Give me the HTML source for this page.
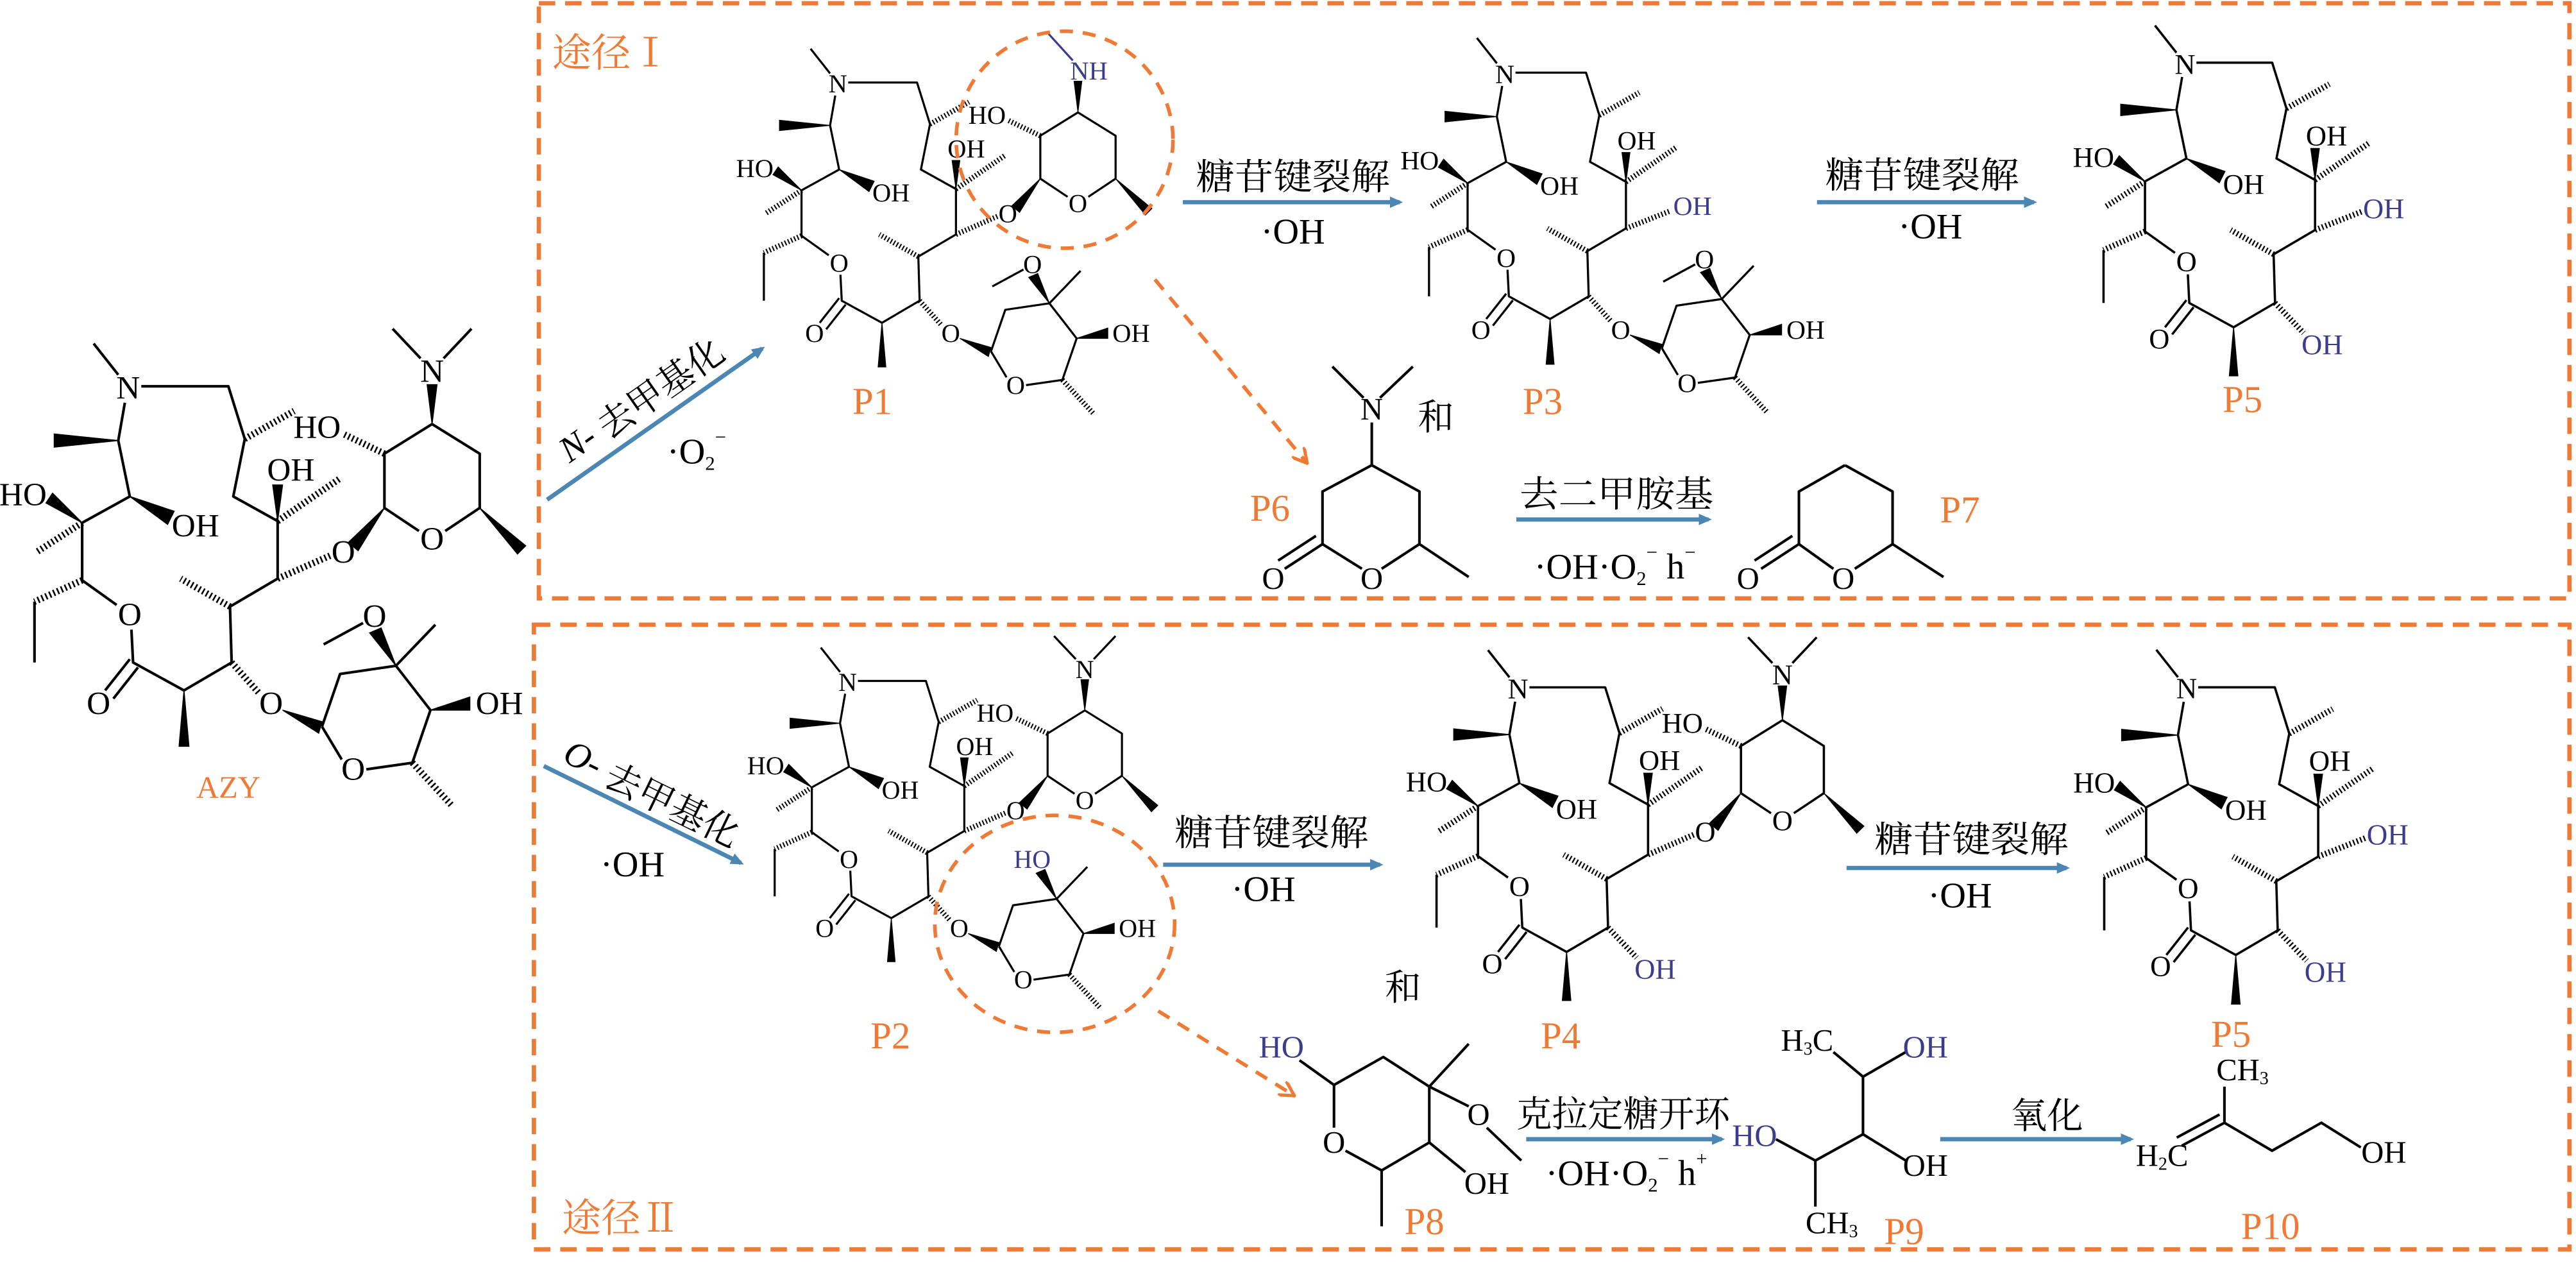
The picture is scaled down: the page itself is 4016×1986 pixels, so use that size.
<!DOCTYPE html>
<html><head><meta charset="utf-8">
<style>
html,body{margin:0;padding:0;background:#fff;}
svg{display:block;}
text{font-family:"Liberation Serif","Noto Serif CJK SC",serif;text-anchor:middle;dominant-baseline:central;fill:#000;}
.m text{font-size:20px;}
.l{stroke:#000;stroke-width:1.6;fill:none;stroke-linejoin:round;}
.b{fill:#000;stroke:#000;stroke-width:0.6;}
.h{stroke:#000;stroke-width:4;stroke-dasharray:1 1.6;fill:none;}
.p{fill:#3c3c8c !important;}
.lab{font-size:23px;fill:#EE7A35;}
.cn{font-size:22px;font-family:"Noto Serif CJK SC","Liberation Serif",serif;}
.r{font-size:22px;}
.s{font-size:19px;}
.box{fill:none;stroke:#EE7A35;stroke-width:2.6;stroke-dasharray:10 6;}
.arr{stroke:#4C86B3;stroke-width:2.6;fill:none;marker-end:url(#ab);}
.darr{stroke:#EE7A35;stroke-width:2.2;stroke-dasharray:8 6;fill:none;marker-end:url(#ao);}
.c{font-family:"Liberation Serif",serif;}
</style></head><body>
<svg width="4016" height="1986" viewBox="0 0 1568 775" preserveAspectRatio="none" xmlns="http://www.w3.org/2000/svg">
<defs>
<marker id="ab" markerWidth="8" markerHeight="8" refX="6" refY="4" orient="auto" markerUnits="userSpaceOnUse"><path d="M0,0.5 L8,4 L0,7.5Z" fill="#4C86B3"/></marker>
<marker id="ao" markerWidth="10" markerHeight="10" refX="8" refY="5" orient="auto" markerUnits="userSpaceOnUse"><path d="M0,0 L9,5 L0,10" fill="none" stroke="#EE7A35" stroke-width="2"/></marker>
</defs>
<rect width="1568" height="775" fill="#fff"/>

<rect class="box" x="328" y="2" width="1236" height="362"/>
<rect class="box" x="325" y="380" width="1239" height="380"/>
<text x="372" y="30" class="cn" style="font-size:24px;fill:#EE7A35">途径Ⅰ</text>
<text x="378" y="739" class="cn" style="font-size:24px;fill:#EE7A35">途径Ⅱ</text>

<!-- AZY -->
<g class="m" transform="translate(78,236) scale(1)">
<text x="0" y="0">N</text><text x="99" y="50">OH</text><text x="41" y="84">OH</text><text x="-64" y="65">HO</text><text x="1" y="138">O</text><text x="-18" y="192">O</text>
<path class="l" d="M-6,-8 L-21,-27 M8,-1 L61,-1 L71,31 L64,66 L91,81 L91,116 L62,133 L63,167 L34,184 L3,167 L2,147 M-7,132 L-28,117 L-28,82 L1,66 L-6,32 L-2,9 M1,165 L-14,184 M6,170 L-9,189 M-57,130 L-57,167"/>
<path class="b" d="M-6,32 L-45,28 L-45,36Z M1,66 L24,83 L28,75Z M-28,82 L-50,70 L-46,64Z M91,81 L88,59 L94,59Z M34,184 L31,218 L37,218Z"/>
<path class="h" d="M71,31 L101,14 M91,81 L129,55 M-28,82 L-56,100 M-28,117 L-57,130 M62,133 L32,116"/>
<text x="185" y="-10">N</text>
<path class="l" d="M178,-18 L161,-36 M192,-18 L209,-36 M185,22 L214,40 L214,73 L193,87 M177,87 L156,73 L156,40 L185,22"/>
<text x="185" y="92">O</text>
<path class="b" d="M185,22 L182,-2 L188,-2Z M156,73 L134,94 L140,99Z M214,73 L237,101 L242,96Z"/>
<path class="h" d="M156,40 L131,28 M91,116 L123,102"/>
<text x="115" y="24">HO</text><text x="131" y="100">O</text>
<text x="87" y="192">O</text>
<path class="h" d="M63,167 L80,186 M173,228 L197,254"/>
<path class="b" d="M94,196 L118,203 L116,210Z M163,169 L147,149 L154,146Z M184,196 L208,188 L208,196Z"/>
<path class="l" d="M118,206 L129,174 L163,169 L184,196 L173,228 L145,232 M130,226 L118,206 M163,169 L187,144 M143,143 L119,156"/>
<text x="150" y="139">O</text><text x="226" y="192">OH</text><text x="137" y="232">O</text>
</g>
<text x="139" y="479" style="font-size:19px;fill:#EE7A35">AZY</text>

<!-- P1 -->
<g class="m" transform="translate(510,51) scale(0.79)">
<text x="0" y="0">N</text><text x="99" y="50">OH</text><text x="41" y="84">OH</text><text x="-64" y="65">HO</text><text x="1" y="138">O</text><text x="-18" y="192">O</text>
<path class="l" d="M-6,-8 L-21,-27 M8,-1 L61,-1 L71,31 L64,66 L91,81 L91,116 L62,133 L63,167 L34,184 L3,167 L2,147 M-7,132 L-28,117 L-28,82 L1,66 L-6,32 L-2,9 M1,165 L-14,184 M6,170 L-9,189 M-57,130 L-57,167"/>
<path class="b" d="M-6,32 L-45,28 L-45,36Z M1,66 L24,83 L28,75Z M-28,82 L-50,70 L-46,64Z M91,81 L88,59 L94,59Z M34,184 L31,218 L37,218Z"/>
<path class="h" d="M71,31 L101,14 M91,81 L129,55 M-28,82 L-56,100 M-28,117 L-57,130 M62,133 L32,116"/>
<text x="179" y="-10" class="p" style="text-anchor:start">NH</text>
<path class="l" d="M185,22 L214,40 L214,73 L193,87 M177,87 L156,73 L156,40 L185,22" />
<path d="M181,-18 L161,-40" stroke="#3c3c8c" stroke-width="1.6"/>
<text x="185" y="92">O</text>
<path class="b" d="M185,22 L182,-2 L188,-2Z M156,73 L134,94 L140,99Z M214,73 L237,101 L242,96Z"/>
<path class="h" d="M156,40 L131,28 M91,116 L123,102"/>
<text x="115" y="24">HO</text><text x="131" y="100">O</text>
<text x="87" y="192">O</text>
<path class="h" d="M63,167 L80,186 M173,228 L197,254"/>
<path class="b" d="M94,196 L118,203 L116,210Z M163,169 L147,149 L154,146Z M184,196 L208,188 L208,196Z"/>
<path class="l" d="M118,206 L129,174 L163,169 L184,196 L173,228 L145,232 M130,226 L118,206 M163,169 L187,144 M143,143 L119,156"/>
<text x="150" y="139">O</text><text x="226" y="192">OH</text><text x="137" y="232">O</text>
</g>
<circle cx="648" cy="85" r="66" fill="none" stroke="#EE7A35" stroke-width="2.2" stroke-dasharray="8 6"/>
<text x="531" y="244" class="lab">P1</text>

<!-- P3 -->
<g class="m" transform="translate(916,45) scale(0.81)">
<text x="0" y="0">N</text><text x="99" y="50">OH</text><text x="41" y="84">OH</text><text x="-64" y="65">HO</text><text x="1" y="138">O</text><text x="-18" y="192">O</text>
<path class="l" d="M-6,-8 L-21,-27 M8,-1 L61,-1 L71,31 L64,66 L91,81 L91,116 L62,133 L63,167 L34,184 L3,167 L2,147 M-7,132 L-28,117 L-28,82 L1,66 L-6,32 L-2,9 M1,165 L-14,184 M6,170 L-9,189 M-57,130 L-57,167"/>
<path class="b" d="M-6,32 L-45,28 L-45,36Z M1,66 L24,83 L28,75Z M-28,82 L-50,70 L-46,64Z M91,81 L88,59 L94,59Z M34,184 L31,218 L37,218Z"/>
<path class="h" d="M71,31 L101,14 M91,81 L129,55 M-28,82 L-56,100 M-28,117 L-57,130 M62,133 L32,116 M91,116 L124,103"/>
<text x="141" y="99" class="p">OH</text>
<text x="87" y="192">O</text>
<path class="h" d="M63,167 L80,186 M173,228 L197,254"/>
<path class="b" d="M94,196 L118,203 L116,210Z M163,169 L147,149 L154,146Z M184,196 L208,188 L208,196Z"/>
<path class="l" d="M118,206 L129,174 L163,169 L184,196 L173,228 L145,232 M130,226 L118,206 M163,169 L187,144 M143,143 L119,156"/>
<text x="150" y="139">O</text><text x="226" y="192">OH</text><text x="137" y="232">O</text>
</g>
<text x="939" y="244" class="lab">P3</text>

<!-- P5 top -->
<g class="m" transform="translate(1330,39) scale(0.87)">
<text x="0" y="0">N</text><text x="99" y="50">OH</text><text x="41" y="84">OH</text><text x="-64" y="65">HO</text><text x="1" y="138">O</text><text x="-18" y="192">O</text>
<path class="l" d="M-6,-8 L-21,-27 M8,-1 L61,-1 L71,31 L64,66 L91,81 L91,116 L62,133 L63,167 L34,184 L3,167 L2,147 M-7,132 L-28,117 L-28,82 L1,66 L-6,32 L-2,9 M1,165 L-14,184 M6,170 L-9,189 M-57,130 L-57,167"/>
<path class="b" d="M-6,32 L-45,28 L-45,36Z M1,66 L24,83 L28,75Z M-28,82 L-50,70 L-46,64Z M91,81 L88,59 L94,59Z M34,184 L31,218 L37,218Z"/>
<path class="h" d="M71,31 L101,14 M91,81 L129,55 M-28,82 L-56,100 M-28,117 L-57,130 M62,133 L32,116 M91,116 L124,103 M63,167 L83,188"/>
<text x="139" y="101" class="p">OH</text>
<text x="96" y="196" class="p">OH</text>
</g>
<text x="1365" y="243" class="lab">P5</text>

<!-- P2 -->
<g class="m" transform="translate(516,415) scale(0.78)">
<text x="0" y="0">N</text><text x="99" y="50">OH</text><text x="41" y="84">OH</text><text x="-64" y="65">HO</text><text x="1" y="138">O</text><text x="-18" y="192">O</text>
<path class="l" d="M-6,-8 L-21,-27 M8,-1 L61,-1 L71,31 L64,66 L91,81 L91,116 L62,133 L63,167 L34,184 L3,167 L2,147 M-7,132 L-28,117 L-28,82 L1,66 L-6,32 L-2,9 M1,165 L-14,184 M6,170 L-9,189 M-57,130 L-57,167"/>
<path class="b" d="M-6,32 L-45,28 L-45,36Z M1,66 L24,83 L28,75Z M-28,82 L-50,70 L-46,64Z M91,81 L88,59 L94,59Z M34,184 L31,218 L37,218Z"/>
<path class="h" d="M71,31 L101,14 M91,81 L129,55 M-28,82 L-56,100 M-28,117 L-57,130 M62,133 L32,116"/>
<text x="185" y="-10">N</text>
<path class="l" d="M178,-18 L161,-36 M192,-18 L209,-36 M185,22 L214,40 L214,73 L193,87 M177,87 L156,73 L156,40 L185,22"/>
<text x="185" y="92">O</text>
<path class="b" d="M185,22 L182,-2 L188,-2Z M156,73 L134,94 L140,99Z M214,73 L237,101 L242,96Z"/>
<path class="h" d="M156,40 L131,28 M91,116 L123,102"/>
<text x="115" y="24">HO</text><text x="131" y="100">O</text>
<text x="87" y="192">O</text>
<path class="h" d="M63,167 L80,186 M173,228 L197,254"/>
<path class="b" d="M94,196 L118,203 L116,210Z M163,169 L147,149 L154,146Z M184,196 L208,188 L208,196Z"/>
<path class="l" d="M118,206 L129,174 L163,169 L184,196 L173,228 L145,232 M130,226 L118,206 M163,169 L187,144"/>
<text x="144" y="138" class="p">HO</text><text x="226" y="192">OH</text><text x="137" y="232">O</text>
</g>
<ellipse cx="642" cy="562" rx="73" ry="66" fill="none" stroke="#EE7A35" stroke-width="2.2" stroke-dasharray="8 6"/>
<text x="542" y="630" class="lab">P2</text>

<!-- P4 -->
<g class="m" transform="translate(924,419) scale(0.87)">
<text x="0" y="0">N</text><text x="99" y="50">OH</text><text x="41" y="84">OH</text><text x="-64" y="65">HO</text><text x="1" y="138">O</text><text x="-18" y="192">O</text>
<path class="l" d="M-6,-8 L-21,-27 M8,-1 L61,-1 L71,31 L64,66 L91,81 L91,116 L62,133 L63,167 L34,184 L3,167 L2,147 M-7,132 L-28,117 L-28,82 L1,66 L-6,32 L-2,9 M1,165 L-14,184 M6,170 L-9,189 M-57,130 L-57,167"/>
<path class="b" d="M-6,32 L-45,28 L-45,36Z M1,66 L24,83 L28,75Z M-28,82 L-50,70 L-46,64Z M91,81 L88,59 L94,59Z M34,184 L31,218 L37,218Z"/>
<path class="h" d="M71,31 L101,14 M91,81 L129,55 M-28,82 L-56,100 M-28,117 L-57,130 M62,133 L32,116 M63,167 L83,188"/>
<text x="185" y="-10">N</text>
<path class="l" d="M178,-18 L161,-36 M192,-18 L209,-36 M185,22 L214,40 L214,73 L193,87 M177,87 L156,73 L156,40 L185,22"/>
<text x="185" y="92">O</text>
<path class="b" d="M185,22 L182,-2 L188,-2Z M156,73 L134,94 L140,99Z M214,73 L237,101 L242,96Z"/>
<path class="h" d="M156,40 L131,28 M91,116 L123,102"/>
<text x="115" y="24">HO</text><text x="131" y="100">O</text>
<text x="96" y="196" class="p">OH</text>
</g>
<text x="950" y="630" class="lab">P4</text>

<!-- P5 bottom -->
<g class="m" transform="translate(1331,419) scale(0.88)">
<text x="0" y="0">N</text><text x="99" y="50">OH</text><text x="41" y="84">OH</text><text x="-64" y="65">HO</text><text x="1" y="138">O</text><text x="-18" y="192">O</text>
<path class="l" d="M-6,-8 L-21,-27 M8,-1 L61,-1 L71,31 L64,66 L91,81 L91,116 L62,133 L63,167 L34,184 L3,167 L2,147 M-7,132 L-28,117 L-28,82 L1,66 L-6,32 L-2,9 M1,165 L-14,184 M6,170 L-9,189 M-57,130 L-57,167"/>
<path class="b" d="M-6,32 L-45,28 L-45,36Z M1,66 L24,83 L28,75Z M-28,82 L-50,70 L-46,64Z M91,81 L88,59 L94,59Z M34,184 L31,218 L37,218Z"/>
<path class="h" d="M71,31 L101,14 M91,81 L129,55 M-28,82 L-56,100 M-28,117 L-57,130 M62,133 L32,116 M91,116 L124,103 M63,167 L83,188"/>
<text x="139" y="101" class="p">OH</text>
<text x="96" y="196" class="p">OH</text>
</g>
<text x="1358" y="629" class="lab">P5</text>

<!-- P6 -->
<text x="835" y="249" class="s">N</text>
<path class="l" d="M830,242 L811,223 M840,242 L860,223 M835,257 L835,283 L864,299 L864,331 L841,346 M829,346 L805,331 L805,299 L835,283 M864,331 L894,351 M805,331 L782,346 M801,326 L778,341"/>
<text x="835" y="352" class="s">O</text>
<text x="775" y="352" class="s">O</text>
<text x="773" y="309" class="lab">P6</text>
<text x="874" y="252" class="cn">和</text>

<!-- P7 -->
<path class="l" d="M1123,283 L1152,299 L1152,331 L1129,346 M1116,346 L1095,331 L1095,299 L1123,283 M1152,331 L1183,351 M1095,331 L1072,346 M1091,326 L1068,341"/>
<text x="1122" y="352" class="s">O</text>
<text x="1064" y="352" class="s">O</text>
<text x="1193" y="310" class="lab">P7</text>

<!-- P8 -->
<text x="780" y="637" class="s p">HO</text>
<path class="l" d="M791,645 L812,660 L842,643 L870,661 L870,695 L841,712 L819,700 M812,660 L812,686 M870,661 L894,635 M870,661 L894,673 M905,686 L926,706 M870,695 L892,713 M841,712 L841,746"/>
<text x="812" y="695" class="s">O</text>
<text x="900" y="678" class="s">O</text>
<text x="905" y="720" class="s">OH</text>
<text x="867" y="743" class="lab">P8</text>
<text x="854" y="599" class="cn">和</text>

<!-- P9 -->
<text x="1100" y="633" class="s">H<tspan font-size="11" dy="5">3</tspan><tspan dy="-5">C</tspan></text>
<path class="l" d="M1116,640 L1134,655 L1160,640 M1134,655 L1134,690 L1160,706 M1134,690 L1105,706 L1081,693 M1105,706 L1105,734"/>
<text x="1172" y="637" class="s p">OH</text>
<text x="1172" y="709" class="s">OH</text>
<text x="1068" y="691" class="s p">HO</text>
<text x="1115" y="744" class="s">CH<tspan font-size="11" dy="5">3</tspan></text>
<text x="1159" y="749" class="lab">P9</text>

<!-- P10 -->
<text x="1365" y="651" class="s">CH<tspan font-size="11" dy="5">3</tspan></text>
<path class="l" d="M1354,661 L1354,683 L1383,700 L1413,683 L1437,698 M1354,683 L1328,697 M1351,678 L1325,692"/>
<text x="1316" y="703" class="s">H<tspan font-size="11" dy="5">2</tspan><tspan dy="-5">C</tspan></text>
<text x="1451" y="701" class="s">OH</text>
<text x="1382" y="746" class="lab">P10</text>

<!-- arrows -->
<line class="arr" x1="333" y1="304" x2="464" y2="212"/>
<text transform="translate(390,243) rotate(-35)" class="cn"><tspan font-style="italic" class="c">N</tspan><tspan class="c">- </tspan>去甲基化</text>
<text x="424" y="275" class="r">·O<tspan font-size="12" dy="7">2</tspan><tspan font-size="12" dy="-16">−</tspan></text>

<line class="arr" x1="331" y1="466" x2="451" y2="525"/>
<text transform="translate(397,482) rotate(26)" class="cn"><tspan font-style="italic" class="c">O</tspan><tspan class="c">- </tspan>去甲基化</text>
<text x="385" y="526" class="r">·OH</text>

<line class="arr" x1="720" y1="123" x2="852" y2="123"/>
<text x="787" y="106" class="cn" textLength="118" lengthAdjust="spacingAndGlyphs">糖苷键裂解</text>
<text x="787" y="141" class="r">·OH</text>

<line class="arr" x1="1106" y1="123" x2="1238" y2="123"/>
<text x="1170" y="105" class="cn" textLength="118" lengthAdjust="spacingAndGlyphs">糖苷键裂解</text>
<text x="1175" y="138" class="r">·OH</text>

<line class="arr" x1="923" y1="316" x2="1040" y2="316"/>
<text x="984" y="299" class="cn" textLength="118" lengthAdjust="spacingAndGlyphs">去二甲胺基</text>
<text x="983" y="345" class="r">·OH·O<tspan font-size="12" dy="7">2</tspan><tspan font-size="12" dy="-16">−</tspan><tspan dy="9"> h</tspan><tspan font-size="12" dy="-9">−</tspan></text>

<line class="arr" x1="708" y1="526" x2="840" y2="526"/>
<text x="774" y="505" class="cn" textLength="118" lengthAdjust="spacingAndGlyphs">糖苷键裂解</text>
<text x="769" y="541" class="r">·OH</text>

<line class="arr" x1="1124" y1="528" x2="1258" y2="528"/>
<text x="1200" y="509" class="cn" textLength="118" lengthAdjust="spacingAndGlyphs">糖苷键裂解</text>
<text x="1193" y="545" class="r">·OH</text>

<line class="arr" x1="929" y1="693" x2="1048" y2="693"/>
<text x="988" y="676" class="cn" textLength="130" lengthAdjust="spacingAndGlyphs">克拉定糖开环</text>
<text x="990" y="714" class="r">·OH·O<tspan font-size="12" dy="7">2</tspan><tspan font-size="12" dy="-16">−</tspan><tspan dy="9"> h</tspan><tspan font-size="12" dy="-9">+</tspan></text>

<line class="arr" x1="1181" y1="693" x2="1297" y2="693"/>
<text x="1246" y="677" class="cn">氧化</text>

<line class="darr" x1="703" y1="170" x2="795" y2="281"/>
<line class="darr" x1="705" y1="615" x2="787" y2="666"/>
</svg>
</body></html>
